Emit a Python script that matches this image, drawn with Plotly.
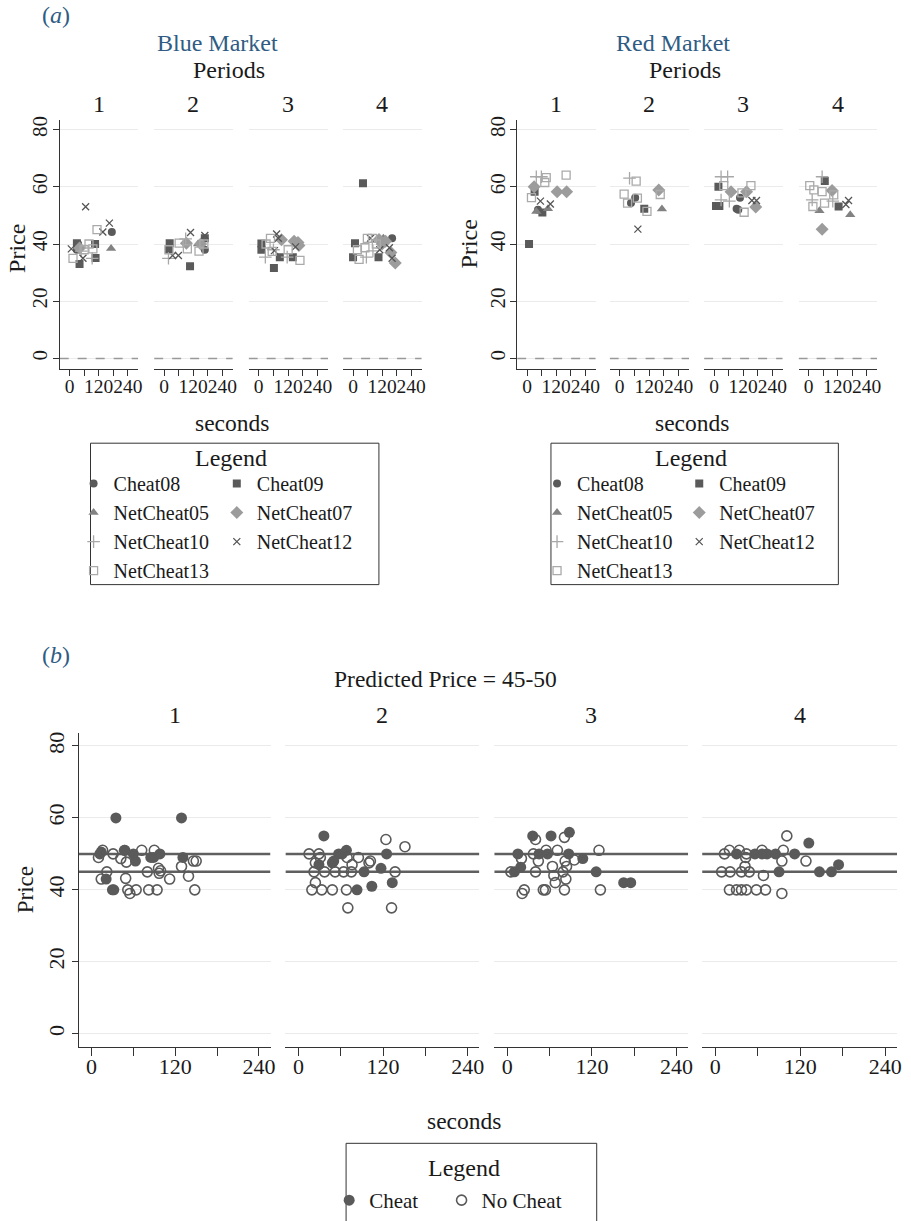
import plotly.graph_objects as go

W, H = 911, 1221

# ---------------- data ----------------
PERIODS = [1, 2, 3, 4]
X_TICK_VALS = [0, 60, 120, 180, 240]
X_TICK_TEXT = ["0", "", "120", "", "240"]
Y_TICK_VALS = [0, 20, 40, 60, 80]
SERIES = ["Cheat08", "Cheat09", "NetCheat05", "NetCheat07", "NetCheat10", "NetCheat12", "NetCheat13"]
PREDICTED_BAND = [45, 50]

# (period, seconds, price) -- Blue Market
blue_cheat08 = [(1, 174, 44.2), (1, 30, 38), (1, 35, 40), (2, 168, 38), (4, 161, 42)]
blue_cheat09 = [(1, 30, 40.3), (1, 105, 40), (1, 41, 33), (1, 107, 35.1),
                (2, 23, 40.3), (2, 20, 38), (2, 107, 32.2), (2, 168, 42),
                (3, 11, 40.2), (3, 11, 38), (3, 86, 35.4), (3, 139, 35.4), (3, 62, 31.6),
                (4, 41, 61.2), (4, 8, 40.3), (4, 0, 35.4), (4, 105, 35.4)]
blue_netcheat05 = [(1, 171, 38.4), (2, 140, 40), (3, 150, 41), (4, 125, 42)]
blue_netcheat07 = [(1, 41, 38.6), (2, 92, 40.3), (2, 151, 40),
                   (3, 93, 41.5), (3, 144, 41), (3, 164, 39.5), (3, 160, 40.5),
                   (4, 107, 41.6), (4, 134, 41), (4, 174, 33.4), (4, 156, 37), (4, 120, 40)]
blue_netcheat10 = [(1, 48, 37.5), (1, 93, 35), (2, 89, 41.8), (2, 18, 35),
                   (3, 27, 35.4), (3, 116, 35.4), (3, 60, 38), (4, 55, 35.4), (4, 82, 37.6)]
blue_netcheat12 = [(1, 66, 53), (1, 164, 47.3), (1, 137, 44.2), (1, 7, 38.3), (1, 55, 35),
                   (2, 109, 44), (2, 168, 43), (2, 59, 36), (2, 35, 36),
                   (3, 73, 43.5), (3, 80, 42), (3, 64, 37.7), (3, 150, 39),
                   (4, 72, 42), (4, 150, 38.7), (4, 161, 35), (4, 110, 38)]
blue_netcheat13 = [(1, 113, 45), (1, 14, 35), (1, 96, 38.3), (1, 80, 40), (1, 60, 38),
                   (2, 62, 40.3), (2, 144, 37.5), (2, 96, 38.3), (2, 164, 40), (2, 20, 38),
                   (3, 48, 42), (3, 55, 37.4), (3, 168, 34.3), (3, 120, 38), (3, 30, 40),
                   (4, 59, 42), (4, 18, 38), (4, 25, 34.6), (4, 49, 38.7), (4, 96, 40), (4, 80, 42)]

# (period, seconds, price) -- Red Market
red_cheat08 = [(1, 45, 52), (2, 63, 56.2), (2, 46, 54.3), (3, 107, 56.2), (3, 93, 52.3), (3, 100, 52)]
red_cheat09 = [(1, 8, 40), (1, 31, 58.3), (1, 63, 51), (2, 100, 52.3),
               (3, 18, 60), (3, 8, 53.3), (3, 22, 53.3), (4, 67, 62), (4, 124, 53.1)]
red_netcheat05 = [(1, 38, 51.4), (1, 86, 52.3), (2, 172, 52.2), (4, 45, 51.6), (4, 172, 50.2)]
red_netcheat07 = [(1, 29, 60), (1, 124, 58.3), (1, 163, 58.3), (2, 159, 58.9),
                  (3, 70, 58.3), (3, 134, 58.3), (3, 172, 52.9), (4, 97, 58.7), (4, 56, 45.2)]
red_netcheat10 = [(1, 38, 63.5), (1, 59, 63.5), (2, 40, 63),
                  (3, 29, 63.5), (3, 56, 63.5), (3, 29, 55.4), (3, 63, 55),
                  (4, 56, 63.5), (4, 15, 55.4), (4, 100, 55)]
red_netcheat12 = [(1, 55, 55), (1, 96, 54), (2, 74, 45.2), (3, 156, 55.2), (3, 175, 55.2),
                  (4, 165, 55.2), (4, 154, 53.8)]
red_netcheat13 = [(1, 161, 64.1), (1, 79, 63.2), (1, 73, 61.5), (1, 18, 56.2),
                  (2, 67, 62), (2, 18, 57.4), (2, 32, 54.3), (2, 72, 56), (2, 111, 51.4), (2, 165, 57.3),
                  (3, 40, 60.4), (3, 152, 60.4), (3, 115, 57.9), (3, 124, 51.1),
                  (4, 5, 60.4), (4, 22, 58.9), (4, 56, 58.3), (4, 104, 57.2), (4, 18, 53.1), (4, 66, 54.3)]

# (period, seconds, price) -- Predicted Price = 45-50
cheat = [(1, 35, 60), (1, 129, 60), (1, 14, 50.5), (1, 48, 51), (1, 60, 50), (1, 63, 48), (1, 89, 49),
         (1, 98, 50), (1, 131, 49), (1, 21, 43), (1, 30, 40), (1, 32, 40), (1, 12, 50), (1, 85, 49), (1, 47, 51),
         (2, 36, 55), (2, 68, 51), (2, 57, 50), (2, 50, 48), (2, 29, 47), (2, 93, 45), (2, 83, 40),
         (2, 104, 41), (2, 117, 46), (2, 125, 50), (2, 133, 42), (2, 62, 50), (2, 48, 47.5),
         (3, 36, 55), (3, 62, 55), (3, 88, 56), (3, 15, 50), (3, 19, 46.3), (3, 10, 45), (3, 45, 50),
         (3, 57, 50), (3, 87, 50), (3, 107, 48.7), (3, 126, 45), (3, 165, 42), (3, 175, 42),
         (4, 132, 53), (4, 112, 50), (4, 56, 50), (4, 66, 50), (4, 73, 50), (4, 85, 50), (4, 30, 50),
         (4, 90, 45), (4, 147, 45), (4, 164, 45), (4, 174, 47)]
no_cheat = [(1, 10, 49), (1, 16, 51), (1, 31, 50), (1, 22, 45), (1, 14, 43), (1, 42, 48.7), (1, 50, 47.7),
            (1, 49, 43.2), (1, 52, 40), (1, 55, 39), (1, 64, 40), (1, 72, 51), (1, 80, 45), (1, 82, 40),
            (1, 94, 40), (1, 90, 51), (1, 96, 46), (1, 99, 45.3), (1, 97, 44.6), (1, 112, 43),
            (1, 129, 46.5), (1, 139, 43.8), (1, 146, 48), (1, 150, 48), (1, 148, 40),
            (2, 15, 50), (2, 29, 50), (2, 31, 49), (2, 24, 47.5), (2, 22, 45), (2, 37, 45), (2, 52, 45),
            (2, 64, 45), (2, 75, 45), (2, 24, 42), (2, 19, 40), (2, 33, 40), (2, 48, 40), (2, 68, 40),
            (2, 70, 35), (2, 76, 47), (2, 85, 49), (2, 100, 47.5), (2, 102, 48), (2, 124, 54),
            (2, 151, 52), (2, 137, 45), (2, 132, 35), (2, 69, 49),
            (3, 40, 54), (3, 81, 54.6), (3, 20, 48.7), (3, 37, 50), (3, 55, 51), (3, 71, 51), (3, 44, 48),
            (3, 82, 48), (3, 95, 48.3), (3, 130, 51), (3, 5, 45), (3, 40, 45), (3, 64, 46.5), (3, 66, 44),
            (3, 79, 45), (3, 84, 46.5), (3, 83, 43), (3, 68, 42), (3, 24, 40), (3, 21, 39), (3, 51, 40),
            (3, 54, 40), (3, 81, 40), (3, 132, 40),
            (4, 13, 50), (4, 20, 51), (4, 34, 51), (4, 44, 50), (4, 66, 51), (4, 96, 51), (4, 101, 55),
            (4, 94, 48), (4, 128, 48), (4, 43, 49), (4, 42, 46.5), (4, 9, 45), (4, 21, 45), (4, 37, 45),
            (4, 48, 45), (4, 68, 44), (4, 20, 40), (4, 30, 40), (4, 37, 40), (4, 44, 40), (4, 58, 40),
            (4, 71, 40), (4, 94, 39)]

BLUE = [blue_cheat08, blue_cheat09, blue_netcheat05, blue_netcheat07, blue_netcheat10, blue_netcheat12, blue_netcheat13]
RED = [red_cheat08, red_cheat09, red_netcheat05, red_netcheat07, red_netcheat10, red_netcheat12, red_netcheat13]

# ---------------- styles ----------------
FONT = "Liberation Serif"
TXT = "#1a1a1a"
TITLE_BLUE = "#305c84"
AXIS = "#333333"
GRID = "#ebebeb"
DARK = "#5a5a5a"

MARKERS = {
    "Cheat08": dict(symbol="circle", color=DARK, size=8),
    "Cheat09": dict(symbol="square", color=DARK, size=8),
    "NetCheat05": dict(symbol="triangle-up", color="#828282", size=9),
    "NetCheat07": dict(symbol="diamond", color="#9c9c9c", size=10),
    "NetCheat10": dict(symbol="cross-thin", color="#a8a8a8", size=9, line=dict(color="#a8a8a8", width=1.3)),
    "NetCheat12": dict(symbol="x-thin", color="#555555", size=7, line=dict(color="#555555", width=1.3)),
    "NetCheat13": dict(symbol="square-open", color="#aaaaaa", size=8, line=dict(color="#aaaaaa", width=1.3)),
}
LEFT_COL = {"Cheat08", "NetCheat05", "NetCheat10", "NetCheat13"}

TEXT_DY = -3.5  # visual-centre correction for annotation text


def PX(p):
    return p / W


def PY(p):
    return 1 - p / H


def xref(n):
    return "x" if n == 1 else f"x{n}"


def yref(n):
    return "y" if n == 1 else f"y{n}"


def axkey(kind, n):
    return f"{kind}axis" if n == 1 else f"{kind}axis{n}"


# subplot pixel geometry
A_BLUE_X = [(60, 139), (155, 234), (250, 330), (345, 424)]
A_RED_X = [(520, 599), (613, 693), (708, 787), (803, 882)]
B_X = [(79, 272), (287, 482), (497, 692), (706, 902)]
A_Y = (116, 366)
B_Y = (732, 1047)
A_XRANGE = [-41, 283]
B_XRANGE = [-18.5, 256.5]
A_YRANGE = [-3.5, 83.5]
B_YRANGE = [-3.6, 83.6]

fig = go.Figure()
layout = dict(width=W, height=H, margin=dict(l=0, r=0, t=0, b=0),
              paper_bgcolor="white", plot_bgcolor="white",
              font=dict(family=FONT, color=TXT, size=21), showlegend=True)
shapes = []
annotations = []


def note(text, x, y, size=24, color=TXT, angle=0):
    yy = y + (TEXT_DY if angle == 0 else 0)
    annotations.append(dict(text=text, x=PX(x), y=PY(yy), xref="paper", yref="paper",
                            xanchor="center", yanchor="middle", showarrow=False,
                            textangle=angle, font=dict(family=FONT, size=size, color=color)))


groups = [
    # name, x domains, y domain, x range, y range, first axis no, x font, y font, x ticklen, x standoff, y standoff
    ("blue", A_BLUE_X, A_Y, A_XRANGE, A_YRANGE, 1, 19.5, 21, 6, -6, -3),
    ("red", A_RED_X, A_Y, A_XRANGE, A_YRANGE, 5, 19.5, 21, 6, -6, -3),
    ("b", B_X, B_Y, B_XRANGE, B_YRANGE, 9, 22, 22, 8, -8, -1),
]
for name, xdoms, ydom, xr, yr, n0, xfs, yfs, tl, xso, yso in groups:
    for k, (x0, x1) in enumerate(xdoms):
        n = n0 + k
        first = k == 0
        layout[axkey("x", n)] = dict(
            domain=[PX(x0), PX(x1)], range=xr, anchor=yref(n),
            tickvals=X_TICK_VALS, ticktext=X_TICK_TEXT, ticks="outside", ticklen=tl,
            tickcolor=AXIS, showline=True, linecolor=AXIS, linewidth=1, tickangle=0,
            ticklabelstandoff=xso,
            showgrid=False, zeroline=False, tickfont=dict(size=xfs, family=FONT, color=TXT))
        layout[axkey("y", n)] = dict(
            domain=[PY(ydom[1]), PY(ydom[0])], range=yr, anchor=xref(n),
            tickvals=Y_TICK_VALS, showgrid=True, gridcolor=GRID, gridwidth=1, zeroline=False,
            showline=first, linecolor=AXIS, linewidth=1,
            ticks="outside" if first else "", ticklen=6, tickcolor=AXIS,
            ticklabelstandoff=yso,
            showticklabels=first, tickangle=-90, tickfont=dict(size=yfs, family=FONT, color=TXT))
        # period label above each panel
        note(str(PERIODS[k]), (x0 + x1) / 2, 104 if name != "b" else 717)
        if name == "b":
            for v in PREDICTED_BAND:
                shapes.append(dict(type="line", xref=xref(n), yref=yref(n),
                                   x0=xr[0], x1=xr[1], y0=v, y1=v, layer="between",
                                   line=dict(color="#5f5f5f", width=2.5)))
        else:
            shapes.append(dict(type="line", xref=xref(n), yref=yref(n),
                               x0=xr[0], x1=xr[1], y0=0, y1=0, layer="between",
                               line=dict(color="#999999", width=1.5, dash="dash")))

# ---------------- traces: panel (a) ----------------
for market, data, n0, legs in [("Blue", BLUE, 1, ("legend", "legend2")),
                               ("Red", RED, 5, ("legend3", "legend4"))]:
    for sname, pts in zip(SERIES, data):
        shown = False
        for k, per in enumerate(PERIODS):
            sel = [p for p in pts if p[0] == per]
            if not sel:
                continue
            fig.add_trace(go.Scatter(
                x=[p[1] for p in sel], y=[p[2] for p in sel], mode="markers",
                name=sname, legendgroup=f"{market}-{sname}", showlegend=not shown,
                legend=legs[0] if sname in LEFT_COL else legs[1],
                marker=MARKERS[sname], xaxis=xref(n0 + k), yaxis=yref(n0 + k),
                hovertemplate=f"{market} {sname}<br>%{{x}} s, %{{y}}<extra></extra>"))
            shown = True

# ---------------- traces: panel (b) ----------------
for sname, pts, mk, leg in [("Cheat", cheat, dict(symbol="circle", color=DARK, size=11), "legend5"),
                            ("No Cheat", no_cheat, dict(symbol="circle-open", color=DARK, size=10,
                                                        line=dict(color=DARK, width=1.6)), "legend6")]:
    for k, per in enumerate(PERIODS):
        sel = [p for p in pts if p[0] == per]
        fig.add_trace(go.Scatter(
            x=[p[1] for p in sel], y=[p[2] for p in sel], mode="markers",
            name=sname, legendgroup=sname, showlegend=(k == 0), legend=leg,
            marker=mk, xaxis=xref(9 + k), yaxis=yref(9 + k),
            hovertemplate=f"{sname}<br>%{{x}} s, %{{y}}<extra></extra>"))

# ---------------- legends ----------------
def leg_style(size):
    return dict(xref="paper", yref="paper", xanchor="left", yanchor="top",
                bgcolor="rgba(0,0,0,0)", borderwidth=0, traceorder="normal",
                font=dict(family=FONT, size=size, color=TXT))


layout["legend"] = dict(x=PX(74), y=PY(462), **leg_style(20))
layout["legend2"] = dict(x=PX(218), y=PY(462), **leg_style(20))
layout["legend3"] = dict(x=PX(540), y=PY(462), **leg_style(20))
layout["legend4"] = dict(x=PX(683), y=PY(462), **leg_style(20))
layout["legend5"] = dict(x=PX(331), y=PY(1181), **leg_style(21))
layout["legend6"] = dict(x=PX(444), y=PY(1181), **leg_style(21))

for (bx0, bx1, by0, by1, tx, ty) in [(91, 381, 441, 583, 232, 459),
                                     (554, 843, 441, 583, 695, 459),
                                     (348, 600, 1144, 1230, 467, 1172)]:
    shapes.append(dict(type="rect", xref="paper", yref="paper",
                       x0=PX(bx0), x1=PX(bx1), y0=PY(by1), y1=PY(by0),
                       line=dict(color=AXIS, width=1), fillcolor="rgba(0,0,0,0)", layer="above"))
    note("Legend", tx, ty)

# ---------------- titles / labels ----------------
note("(<i>a</i>)", 56, 15, color=TITLE_BLUE)
note("Blue Market", 219, 43, color=TITLE_BLUE)
note("Red Market", 677, 43, color=TITLE_BLUE)
note("Periods", 230, 70)
note("Periods", 689, 70)
note("Price", 17, 245, angle=-90)
note("Price", 472, 241, angle=-90)
note("seconds", 233, 424, size=23.5)
note("seconds", 696, 424, size=23.5)
note("(<i>b</i>)", 56, 657, color=TITLE_BLUE)
note("Predicted Price = 45-50", 448, 681, size=23.5)
note("Price", 25, 889, size=23, angle=-90)
note("seconds", 467, 1125, size=23.5)

layout["shapes"] = shapes
layout["annotations"] = annotations
fig.update_layout(**layout)
fig.write_html("out.html", config={"displayModeBar": False},
               post_script="document.body.style.margin='0';document.body.style.padding='0';")
